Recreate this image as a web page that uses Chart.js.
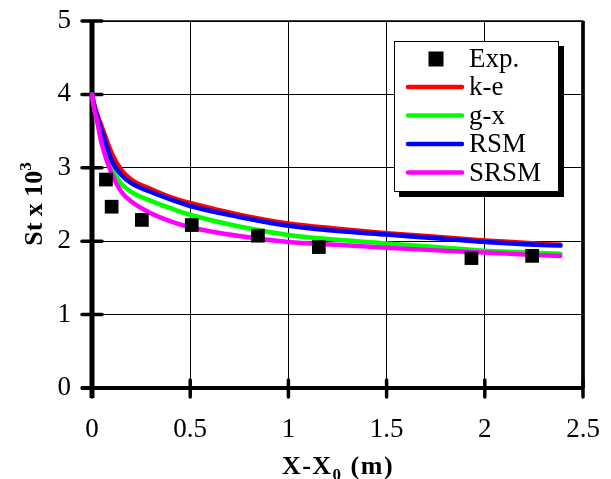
<!DOCTYPE html>
<html>
<head>
<meta charset="utf-8">
<script src="https://cdn.jsdelivr.net/npm/chart.js@4.4.1/dist/chart.umd.min.js"></script>
<style>
html,body{margin:0;padding:0;background:#fff;}
canvas{display:block;}
</style>
</head>
<body>
<canvas id="c" width="611" height="479"></canvas>
<script>
// ---- data ----
const xTicks = [0, 0.5, 1, 1.5, 2, 2.5];
const yTicks = [0, 1, 2, 3, 4, 5];
const curveX = [0, 0.01, 0.025, 0.05, 0.1, 0.15, 0.2, 0.3, 0.4, 0.5, 0.75, 1.0, 1.25, 1.5, 1.75, 2.0, 2.2, 2.385];
const kE   = [4.00, 3.88, 3.74, 3.56, 3.20, 2.97, 2.84, 2.71, 2.60, 2.52, 2.36, 2.24, 2.17, 2.11, 2.06, 2.01, 1.98, 1.95];
const gX   = [4.00, 3.84, 3.66, 3.40, 3.00, 2.78, 2.67, 2.55, 2.45, 2.36, 2.20, 2.085, 2.02, 1.97, 1.92, 1.87, 1.85, 1.83];
const rsm  = [4.00, 3.86, 3.71, 3.50, 3.10, 2.90, 2.79, 2.67, 2.57, 2.48, 2.33, 2.21, 2.14, 2.09, 2.04, 1.99, 1.96, 1.94];
const srsm = [4.00, 3.82, 3.65, 3.32, 2.92, 2.67, 2.54, 2.38, 2.27, 2.19, 2.07, 1.99, 1.95, 1.91, 1.875, 1.845, 1.82, 1.80];
const expX = [0.071, 0.10, 0.254, 0.508, 0.845, 1.155, 1.932, 2.241];
const expY = [2.84, 2.47, 2.29, 2.22, 2.075, 1.92, 1.77, 1.80];
const seriesNames = ['Exp.', 'k-e', 'g-x', 'RSM', 'SRSM'];

const pts = (xs, ys) => xs.map((x, i) => ({x: x, y: ys[i]}));
const FONT = '"Liberation Serif", "Times New Roman", serif';

function curve(label, ys, color, order) {
  return {
    label, data: pts(curveX, ys), showLine: true, borderColor: color, backgroundColor: color,
    borderWidth: 4.5, pointRadius: 0, pointHoverRadius: 0, cubicInterpolationMode: 'monotone',
    borderCapStyle: 'round', borderJoinStyle: 'round', clip: 8, order
  };
}
function zeroPad(s) { s.paddingTop = 0; s.paddingBottom = 0; s.paddingLeft = 0; s.paddingRight = 0; }

const axesPlugin = {
  id: 'axesPlugin',
  beforeDatasetsDraw(chart) {
    const {ctx, chartArea: a, scales: {x, y}} = chart;
    ctx.save();
    ctx.strokeStyle = '#000';
    ctx.lineCap = 'round';
    ctx.lineWidth = 1.5;
    ctx.beginPath(); ctx.moveTo(a.left, a.top); ctx.lineTo(a.right, a.top); ctx.stroke();
    ctx.lineWidth = 3.7;
    ctx.lineCap = 'butt';
    ctx.beginPath(); ctx.moveTo(a.right, a.top); ctx.lineTo(a.right, a.bottom); ctx.stroke();
    ctx.lineWidth = 5;
    ctx.beginPath(); ctx.moveTo(a.left, a.top - 1); ctx.lineTo(a.left, a.bottom + 10); ctx.stroke();
    ctx.lineWidth = 4;
    ctx.beginPath(); ctx.moveTo(a.left - 11, a.bottom); ctx.lineTo(a.right + 1, a.bottom); ctx.stroke();
    ctx.lineCap = 'round';
    ctx.lineWidth = 3.5;
    yTicks.forEach(v => {
      const py = y.getPixelForValue(v);
      ctx.beginPath(); ctx.moveTo(a.left - 10, py); ctx.lineTo(a.left + 10, py); ctx.stroke();
    });
    xTicks.forEach(v => {
      const px = x.getPixelForValue(v);
      ctx.beginPath(); ctx.moveTo(px, a.bottom - 8); ctx.lineTo(px, a.bottom + 9); ctx.stroke();
    });
    ctx.restore();
  },
  afterDraw(chart) {
    const {ctx} = chart;
    ctx.save();
    ctx.fillStyle = '#000';
    const big = 'bold 26px ' + FONT, small = 'bold 17px ' + FONT;
    // x title (slightly spaced, like the reference)
    ctx.letterSpacing = '1.5px';
    ctx.font = big;
    const t1 = 'X-X', t3 = ' (m)';
    const w1 = ctx.measureText(t1).width, w3 = ctx.measureText(t3).width;
    ctx.font = small;
    const w2 = ctx.measureText('0').width;
    let sx = 338 - (w1 + w2 + w3) / 2;
    const by = 474;
    ctx.textBaseline = 'alphabetic';
    ctx.textAlign = 'left';
    ctx.font = big; ctx.fillText(t1, sx, by);
    ctx.font = small; ctx.fillText('0', sx + w1, by + 6);
    ctx.font = big; ctx.fillText(t3, sx + w1 + w2, by);
    ctx.letterSpacing = '0px';
    // y title
    ctx.translate(42, 204);
    ctx.rotate(-Math.PI / 2);
    ctx.font = big;
    const u1 = 'St x 10';
    const uw1 = ctx.measureText(u1).width;
    ctx.font = small;
    const uw2 = ctx.measureText('3').width;
    const ux = -(uw1 + uw2) / 2;
    ctx.font = big; ctx.fillText(u1, ux, 0);
    ctx.font = small; ctx.fillText('3', ux + uw1, -11);
    ctx.restore();

    // legend
    ctx.save();
    const L = 394, T = 41, R = 559, B = 192;
    ctx.fillStyle = '#000';
    ctx.fillRect(L + 5, T + 5, R - L, B - T);
    ctx.fillStyle = '#fff';
    ctx.fillRect(L, T, R - L, B - T);
    ctx.strokeStyle = '#000';
    ctx.lineWidth = 1;
    ctx.strokeRect(L + 0.5, T + 0.5, R - L - 1, B - T - 1);
    const rows = [59, 87, 115.5, 144, 172.5];
    ctx.font = '27px ' + FONT;
    ctx.textBaseline = 'middle';
    ctx.textAlign = 'left';
    chart.data.datasets.forEach((ds, i) => {
      const ry = rows[i];
      if (i === 0) {
        ctx.fillStyle = ds.backgroundColor;
        ctx.fillRect(436 - 7.5, ry - 7.5, 15, 15);
      } else {
        ctx.strokeStyle = ds.borderColor;
        ctx.lineWidth = 4.5;
        ctx.lineCap = 'round';
        ctx.beginPath(); ctx.moveTo(408, ry); ctx.lineTo(462, ry); ctx.stroke();
      }
      ctx.fillStyle = '#000';
      ctx.fillText(ds.label, 469, ry + 1);
    });
    ctx.restore();
  }
};

new Chart(document.getElementById('c'), {
  type: 'scatter',
  data: {
    datasets: [
      {label: seriesNames[0], data: pts(expX, expY), showLine: false, pointStyle: 'rect', pointRadius: 9.7,
       pointHoverRadius: 9.7, backgroundColor: '#000', borderColor: '#000', borderWidth: 0, order: 0, clip: 10},
      curve(seriesNames[1], kE, '#ff0000', 4),
      curve(seriesNames[2], gX, '#00ff00', 3),
      curve(seriesNames[3], rsm, '#0000ff', 2),
      curve(seriesNames[4], srsm, '#ff00ff', 1)
    ]
  },
  options: {
    responsive: false,
    animation: false,
    devicePixelRatio: 1,
    layout: {padding: {left: 0, top: 21, right: 28, bottom: 0}},
    plugins: {legend: {display: false}, tooltip: {enabled: false}},
    scales: {
      x: {
        type: 'linear', min: 0, max: 2.5,
        afterFit: s => { s.height = 91; zeroPad(s); },
        afterBuildTicks: s => { s.ticks = xTicks.map(v => ({value: v})); },
        border: {display: false},
        grid: {color: '#000', lineWidth: 1, drawTicks: false},
        ticks: {color: '#000', font: {family: FONT, size: 27}, padding: 26, maxRotation: 0,
                callback: v => String(v)}
      },
      y: {
        type: 'linear', min: 0, max: 5,
        afterFit: s => { s.width = 92; zeroPad(s); },
        afterBuildTicks: s => { s.ticks = yTicks.map(v => ({value: v})); },
        border: {display: false},
        grid: {color: '#000', lineWidth: 1, drawTicks: false},
        ticks: {color: '#000', font: {family: FONT, size: 27}, padding: 21,
                callback: v => String(v)}
      }
    }
  },
  plugins: [axesPlugin]
});
</script>
</body>
</html>
